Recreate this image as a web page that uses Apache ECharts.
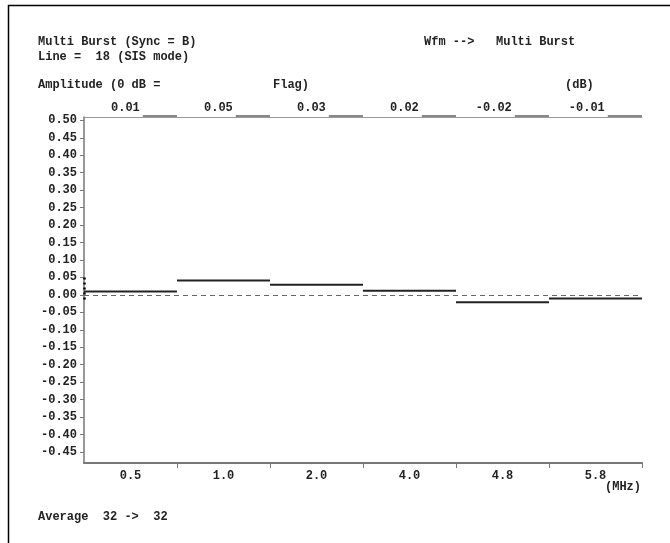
<!DOCTYPE html>
<html>
<head>
<meta charset="utf-8">
<script src="https://cdn.jsdelivr.net/npm/echarts@6/dist/echarts.min.js"></script>
<style>
html,body{margin:0;padding:0;background:#fff;}
#chart{width:670px;height:543px;}
</style>
</head>
<body>
<div id="chart"></div>
<script>
// ---- data ----
const freqLabels = ['0.5', '1.0', '2.0', '4.0', '4.8', '5.8'];
const amplitude = [0.010, 0.041, 0.029, 0.012, -0.021, -0.010];
const topLabels = ['0.01', '0.05', '0.03', '0.02', '-0.02', '-0.01'];
const yTickValues = [-0.45, -0.40, -0.35, -0.30, -0.25, -0.20, -0.15, -0.10, -0.05, 0.00, 0.05, 0.10, 0.15, 0.20, 0.25, 0.30, 0.35, 0.40, 0.45, 0.50];
const yMin = -0.4815, yMax = 0.5095;
const flagMarkRange = [0.05, -0.02];

const FONT = '"Liberation Mono", "DejaVu Sans Mono", monospace';
const chart = echarts.init(document.getElementById('chart'), null, {renderer: 'canvas'});

const bandCenters = freqLabels.map((_, i) => i + 0.5);
const bandEdges = freqLabels.map((_, i) => i + 1);

const txt = (x, y, s, align) => ({
  type: 'text', x: x, y: y,
  style: {text: s, font: 'bold 12px ' + FONT, fill: '#222', textAlign: align || 'left', textVerticalAlign: 'middle'}
});

chart.setOption({
  animation: false,
  backgroundColor: '#fff',
  grid: {left: 84, right: 28, top: 117, bottom: 80, containLabel: false},
  xAxis: [{
    type: 'value', min: 0, max: freqLabels.length, position: 'bottom',
    axisLine: {show: true, onZero: false, lineStyle: {color: '#777', width: 2}},
    axisTick: {show: true, customValues: bandEdges, length: 5, lineStyle: {color: '#777', width: 1}},
    axisLabel: {show: true, customValues: bandCenters, margin: 7,
      formatter: v => freqLabels[Math.round(v - 0.5)],
      fontFamily: FONT, fontWeight: 'bold', fontSize: 12, color: '#222'},
    splitLine: {show: false}
  }, {
    type: 'value', position: 'top', min: 0, max: freqLabels.length,
    axisLine: {show: true, onZero: false, lineStyle: {color: '#999', width: 1}},
    axisTick: {show: false}, axisLabel: {show: false}, splitLine: {show: false}
  }],
  yAxis: {
    type: 'value', min: yMin, max: yMax,
    axisLine: {show: true, onZero: false, lineStyle: {color: '#777', width: 1.5}},
    axisTick: {show: true, customValues: yTickValues, length: 4, lineStyle: {color: '#777'}},
    axisLabel: {show: true, customValues: yTickValues, margin: 7,
      formatter: v => v.toFixed(2),
      fontFamily: FONT, fontWeight: 'bold', fontSize: 12, color: '#222'},
    splitLine: {show: false}
  },
  series: [{
    type: 'custom',
    coordinateSystem: 'cartesian2d',
    clip: false,
    data: amplitude.map((v, i) => [i, v]),
    renderItem: (params, api) => {
      const i = api.value(0), v = api.value(1);
      const p1 = api.coord([i, v]), p2 = api.coord([i + 1, v]);
      return {type: 'line', shape: {x1: p1[0], y1: p1[1], x2: p2[0], y2: p2[1]},
        style: {stroke: '#222', lineWidth: 2}};
    },
    markLine: {
      silent: true, symbol: 'none', animation: false,
      label: {show: false},
      data: [
        {yAxis: 0, lineStyle: {type: [5, 4], color: '#666', width: 1}},
        [{coord: [0, flagMarkRange[0]], lineStyle: {type: [2, 3], color: '#000', width: 2.5}},
         {coord: [0, flagMarkRange[1]]}]
      ]
    }
  }, {
    type: 'custom',
    coordinateSystem: 'cartesian2d',
    clip: false,
    data: topLabels.map((t, i) => [i, yMax]),
    renderItem: (params, api) => {
      const i = api.value(0);
      const s = topLabels[params.dataIndex];
      const pt = api.coord([i + 0.6, yMax]);
      const pe = api.coord([i + 1, yMax]);
      return {type: 'group', children: [
        {type: 'text', x: pt[0], y: pt[1] - 9,
          style: {text: s, font: 'bold 12px ' + FONT, fill: '#222', textAlign: 'right', textVerticalAlign: 'middle'}},
        {type: 'line', shape: {x1: pt[0] + 3, y1: pt[1] - 1, x2: pe[0], y2: pe[1] - 1},
          style: {stroke: '#888', lineWidth: 2}}
      ]};
    }
  }],
  graphic: [
    {type: 'rect', shape: {x: 8.5, y: 5.5, width: 700, height: 600}, style: {fill: 'none', stroke: '#000', lineWidth: 1.5}},
    txt(38, 42, 'Multi Burst (Sync = B)'),
    txt(38, 57, 'Line =  18 (SIS mode)'),
    txt(424, 42, 'Wfm -->   Multi Burst'),
    txt(38, 85, 'Amplitude (0 dB ='),
    txt(273, 85, 'Flag)'),
    txt(565, 85, '(dB)'),
    txt(641, 487, '(MHz)', 'right'),
    txt(38, 517, 'Average  32 ->  32')
  ]
});
</script>
</body>
</html>
